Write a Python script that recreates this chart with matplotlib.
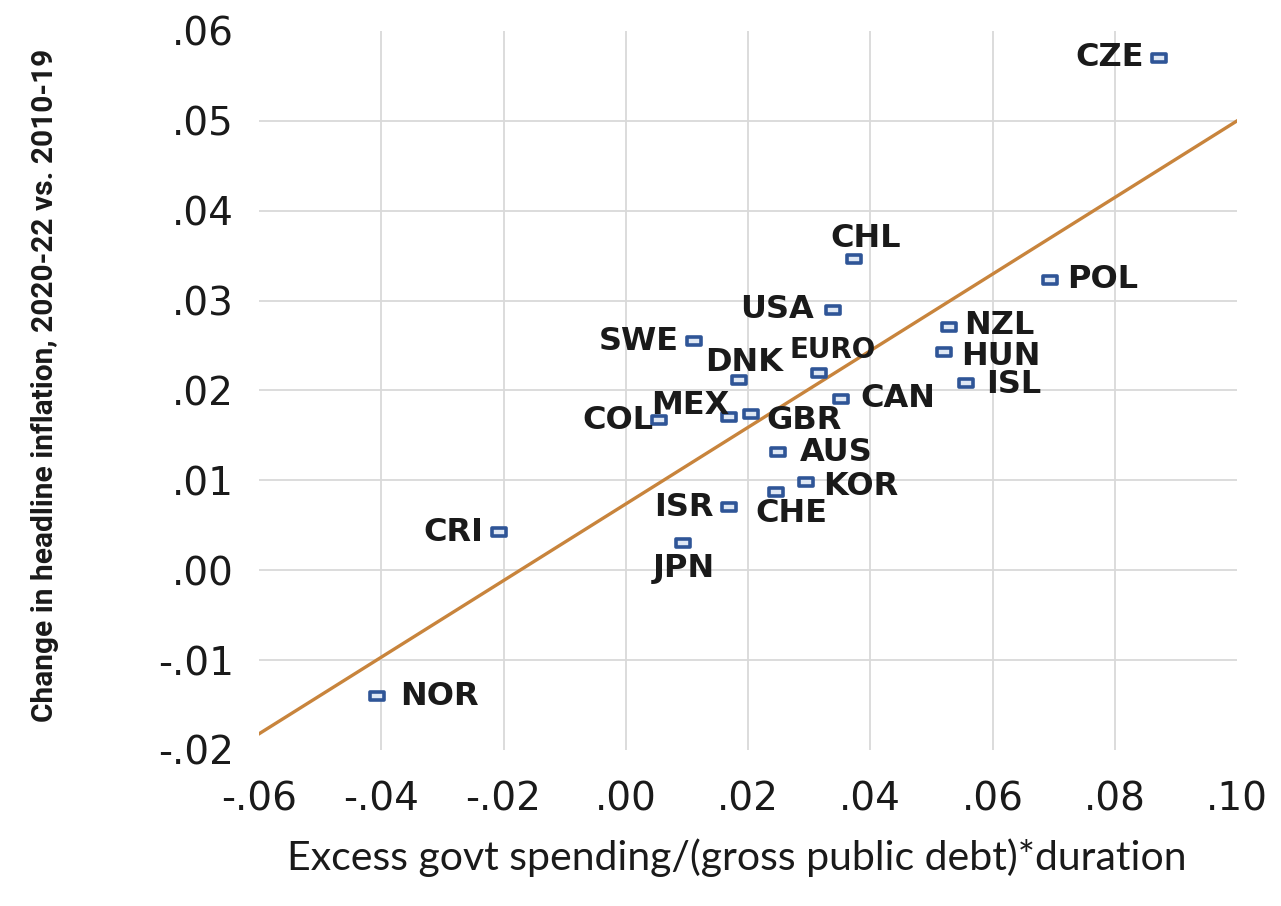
import matplotlib
matplotlib.use("Agg")
import matplotlib.pyplot as plt
from matplotlib.path import Path

# Country-level data: excess spending measure vs change in headline inflation
countries = ["CZE", "CHL", "POL", "USA", "NZL", "HUN", "ISL", "SWE", "DNK", "EURO",
             "CAN", "MEX", "GBR", "COL", "AUS", "KOR", "CHE", "ISR", "CRI", "JPN", "NOR"]
spending = [0.0872, 0.0374, 0.0694, 0.0339, 0.0528, 0.0521, 0.0557, 0.0111, 0.0185, 0.0316,
            0.0352, 0.0169, 0.0205, 0.0054, 0.0249, 0.0295, 0.0246, 0.0169, -0.0208, 0.0093, -0.0407]
inflation = [0.0570, 0.0346, 0.0323, 0.0290, 0.0271, 0.0243, 0.0208, 0.0255, 0.0212, 0.0220,
             0.0191, 0.0171, 0.0174, 0.0167, 0.0131, 0.0098, 0.0087, 0.0070, 0.0042, 0.0030, -0.0140]

# Fitted line endpoints
fit_x = [-0.06, 0.10]
fit_y = [-0.0182, 0.0500]

x_ticks = [-0.06, -0.04, -0.02, 0.00, 0.02, 0.04, 0.06, 0.08, 0.10]
y_ticks = [-0.02, -0.01, 0.00, 0.01, 0.02, 0.03, 0.04, 0.05, 0.06]

# label placement: (dx, dy) in points, ha, va
placement = {
    "CZE": (-11, 0, "right", "center"),
    "CHL": (8, 4, "center", "bottom"),
    "POL": (12, 0, "left", "center"),
    "USA": (-14, 0, "right", "center"),
    "NZL": (11, 1, "left", "center"),
    "HUN": (12, -3, "left", "center"),
    "ISL": (14, -1, "left", "center"),
    "SWE": (-11, 0, "right", "center"),
    "DNK": (4, 1, "center", "bottom"),
    "EURO": (10, 6, "center", "bottom"),
    "CAN": (14, 0, "left", "center"),
    "MEX": (-28, -3, "center", "bottom"),
    "GBR": (11, -5, "left", "center"),
    "COL": (-4, 0, "right", "center"),
    "AUS": (16, 0, "left", "center"),
    "KOR": (12, -3, "left", "center"),
    "CHE": (11, -4, "center", "top"),
    "ISR": (-11, 0, "right", "center"),
    "CRI": (-11, 0, "right", "center"),
    "JPN": (1, -7, "center", "top"),
    "NOR": (17, 0, "left", "center"),
}

fig = plt.figure(figsize=(12.81, 9.06), dpi=100)
ax = fig.add_axes([0.2022, 0.1722, 0.7635, 0.7936])

ax.set_xlim(-0.06, 0.10)
ax.set_ylim(-0.02, 0.06)
ax.set_xticks(x_ticks)
ax.set_yticks(y_ticks)

def fmt(v):
    s = f"{v:.2f}"
    return s.replace("0.", ".", 1)

tick_font = dict(family="DejaVu Sans", size=28, color="#1a1a1a")
ax.set_xticklabels([fmt(v) for v in x_ticks], **tick_font)
ax.set_yticklabels([fmt(v) for v in y_ticks], **tick_font)
ax.tick_params(axis="both", length=0)
ax.tick_params(axis="x", pad=22)
ax.tick_params(axis="y", pad=18)

for s in ax.spines.values():
    s.set_visible(False)

ax.grid(True, color="#d9d9d9", linewidth=1.3)
ax.set_axisbelow(True)
xg = ax.xaxis.get_gridlines()
yg = ax.yaxis.get_gridlines()
for g in (xg[0], xg[-1], yg[0], yg[-1]):
    g.set_visible(False)

ax.plot(fit_x, fit_y, color="#c8843c", linewidth=2.4, zorder=2)

rect = Path([(-1, -0.62), (1, -0.62), (1, 0.62), (-1, 0.62), (-1, -0.62)],
            [Path.MOVETO, Path.LINETO, Path.LINETO, Path.LINETO, Path.CLOSEPOLY])
ax.plot(spending, inflation, linestyle="none", marker=rect, markersize=10,
        markerfacecolor="#dfe8f5", markeredgecolor="#2f5597", markeredgewidth=2.6,
        zorder=3, clip_on=False)

for name, xv, yv in zip(countries, spending, inflation):
    dx, dy, ha, va = placement[name]
    size = 20 if name == "EURO" else 23
    ax.annotate(name, (xv, yv), xytext=(dx, dy), textcoords="offset points",
                ha=ha, va=va, fontsize=size, fontweight="bold",
                family="DejaVu Sans", color="#1a1a1a", zorder=4)

fig.text(0.035, 0.575, "Change in headline inflation, 2020-22 vs. 2010-19",
         rotation=90, ha="center", va="center", fontsize=21.5, fontweight="bold",
         family=["Roboto", "DejaVu Sans"], color="#1a1a1a")

fig.text(0.575, 0.053, "Excess govt spending/(gross public debt)*duration",
         ha="center", va="center", fontsize=29.5, family=["Lato", "DejaVu Sans"],
         color="#1a1a1a")

fig.savefig("out.png", dpi=100, facecolor="white")
